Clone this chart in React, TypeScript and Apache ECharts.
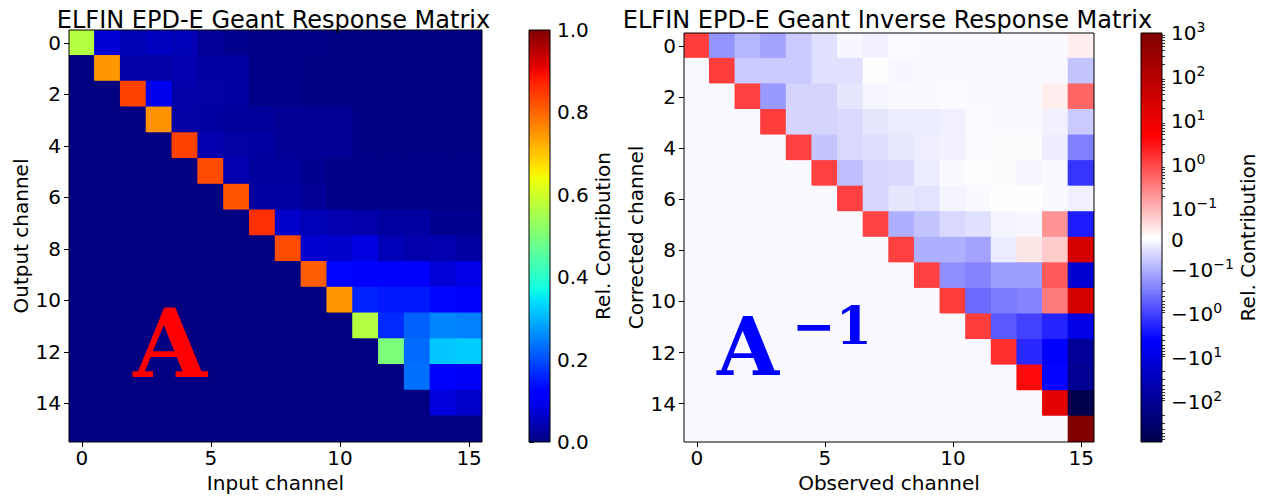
import React, { useEffect, useRef } from "react";
import * as echarts from "echarts";

// Channel indices shared by both matrices
const CHANNELS: string[] = Array.from({ length: 16 }, (_, i) => String(i));

// Response matrix A: rows = output channel, columns = input channel
const RESPONSE: number[][] = [
  [0.57, 0.073, 0.045, 0.055, 0.048, 0.022, 0.014, 0.007, 0.007, 0.006, 0.005, 0.005, 0.005, 0.004, 0.004, 0.004],
  [0, 0.75, 0.035, 0.035, 0.04, 0.028, 0.028, 0.007, 0.008, 0.005, 0.005, 0.004, 0.004, 0.004, 0.004, 0.004],
  [0, 0, 0.84, 0.097, 0.035, 0.031, 0.028, 0.01, 0.01, 0.005, 0.005, 0.005, 0.004, 0.004, 0.004, 0.004],
  [0, 0, 0, 0.755, 0.031, 0.028, 0.024, 0.024, 0.017, 0.017, 0.017, 0.005, 0.005, 0.005, 0.005, 0.005],
  [0, 0, 0, 0, 0.84, 0.04, 0.031, 0.028, 0.02, 0.02, 0.017, 0.005, 0.005, 0.005, 0.005, 0.005],
  [0, 0, 0, 0, 0, 0.83, 0.042, 0.026, 0.026, 0.014, 0.006, 0.006, 0.006, 0.006, 0.006, 0.006],
  [0, 0, 0, 0, 0, 0, 0.82, 0.028, 0.028, 0.02, 0.006, 0.006, 0.006, 0.006, 0.006, 0.006],
  [0, 0, 0, 0, 0, 0, 0, 0.86, 0.066, 0.048, 0.042, 0.037, 0.028, 0.028, 0.014, 0.014],
  [0, 0, 0, 0, 0, 0, 0, 0, 0.83, 0.07, 0.066, 0.083, 0.048, 0.037, 0.042, 0.028],
  [0, 0, 0, 0, 0, 0, 0, 0, 0, 0.81, 0.13, 0.12, 0.115, 0.11, 0.076, 0.09],
  [0, 0, 0, 0, 0, 0, 0, 0, 0, 0, 0.75, 0.16, 0.15, 0.15, 0.13, 0.12],
  [0, 0, 0, 0, 0, 0, 0, 0, 0, 0, 0, 0.57, 0.165, 0.22, 0.255, 0.25],
  [0, 0, 0, 0, 0, 0, 0, 0, 0, 0, 0, 0, 0.5, 0.23, 0.32, 0.325],
  [0, 0, 0, 0, 0, 0, 0, 0, 0, 0, 0, 0, 0, 0.235, 0.11, 0.105],
  [0, 0, 0, 0, 0, 0, 0, 0, 0, 0, 0, 0, 0, 0, 0.08, 0.065],
  [0, 0, 0, 0, 0, 0, 0, 0, 0, 0, 0, 0, 0, 0, 0, 0.001],
];

// Inverse response matrix A^-1: rows = corrected channel, columns = observed channel
const INVERSE: number[][] = [
  [1.35, -0.17, -0.09, -0.125, -0.063, -0.033, -0.003, -0.013, 0.002, 0, 0, 0, 0, 0, 0, 0.03],
  [0, 1.33, -0.063, -0.063, -0.063, -0.033, -0.033, 0.006, -0.003, -0.001, 0, 0, 0, 0, 0, -0.07],
  [0, 0, 1.25, -0.155, -0.05, -0.05, -0.026, -0.006, -0.001, -0.001, 0.001, 0, 0, 0, 0.03, 0.57],
  [0, 0, 0, 1.33, -0.05, -0.05, -0.043, -0.026, -0.018, -0.018, -0.013, 0.002, -0.001, -0.001, -0.01, -0.063],
  [0, 0, 0, 0, 1.25, -0.07, -0.043, -0.036, -0.023, -0.014, -0.01, 0.002, 0.004, 0.003, -0.016, -0.26],
  [0, 0, 0, 0, 0, 1.25, -0.077, -0.047, -0.043, -0.018, -0.001, 0.005, 0.004, -0.004, 0, -1.24],
  [0, 0, 0, 0, 0, 0, 1.25, -0.047, -0.026, -0.03, -0.007, 0, 0.01, 0.01, -0.001, -0.013],
  [0, 0, 0, 0, 0, 0, 0, 1.2, -0.098, -0.07, -0.043, -0.033, -0.007, -0.003, 0.22, -2.1],
  [0, 0, 0, 0, 0, 0, 0, 0, 1.25, -0.098, -0.098, -0.125, -0.018, 0.041, 0.075, 28],
  [0, 0, 0, 0, 0, 0, 0, 0, 0, 1.25, -0.19, -0.24, -0.14, -0.14, 0.74, -15.6],
  [0, 0, 0, 0, 0, 0, 0, 0, 0, 0, 1.33, -0.41, -0.29, -0.24, 0.37, 28],
  [0, 0, 0, 0, 0, 0, 0, 0, 0, 0, 0, 1.35, -0.59, -0.97, -1.8, -8.2],
  [0, 0, 0, 0, 0, 0, 0, 0, 0, 0, 0, 0, 1.8, -1.65, -3.8, -80],
  [0, 0, 0, 0, 0, 0, 0, 0, 0, 0, 0, 0, 0, 3.9, -3.5, -100],
  [0, 0, 0, 0, 0, 0, 0, 0, 0, 0, 0, 0, 0, 0, 16, -790],
  [0, 0, 0, 0, 0, 0, 0, 0, 0, 0, 0, 0, 0, 0, 0, 1000],
];

// Colour-bar ticks
const RESPONSE_TICKS: number[] = [0, 0.2, 0.4, 0.6, 0.8, 1.0];
const INVERSE_MAJOR_TICKS: number[] = [1000, 100, 10, 1, 0.1, 0, -0.1, -1, -10, -100];
const INVERSE_MINOR_MULTIPLES: number[] = [2, 3, 4, 5, 6, 7, 8, 9];
const INVERSE_MINOR_DECADES: number[] = [0.1, 1, 10, 100];

// Symmetric-log norm of the inverse matrix
const INVERSE_VMIN = -790;
const INVERSE_VMAX = 1000;
const LINTHRESH = 0.1;
const LINSCALE = 1;
const LIN_UNITS = LINSCALE / (1 - Math.exp(-1)) / Math.LN10;

function symlog(v: number): number {
  const a = Math.abs(v);
  if (a <= LINTHRESH) return (v / LINTHRESH) * LIN_UNITS;
  return Math.sign(v) * (LIN_UNITS + Math.log10(a / LINTHRESH));
}

const T_MIN = symlog(INVERSE_VMIN);
const T_MAX = symlog(INVERSE_VMAX);

// Colormaps
const JET_R = [[0, 0], [0.35, 0], [0.66, 1], [0.89, 1], [1, 0.5]];
const JET_G = [[0, 0], [0.125, 0], [0.375, 1], [0.64, 1], [0.91, 0], [1, 0]];
const JET_B = [[0, 0.5], [0.11, 1], [0.34, 1], [0.65, 0], [1, 0]];

function segment(x: number, pts: number[][]): number {
  for (let i = 1; i < pts.length; i++) {
    if (x <= pts[i][0]) {
      const [x0, y0] = pts[i - 1];
      const [x1, y1] = pts[i];
      return y0 + ((x - x0) / (x1 - x0)) * (y1 - y0);
    }
  }
  return pts[pts.length - 1][1];
}

const JET: string[] = Array.from({ length: 201 }, (_, i) => {
  const x = i / 200;
  const c = (p: number[][]) => Math.round(segment(x, p) * 255);
  return `rgb(${c(JET_R)},${c(JET_G)},${c(JET_B)})`;
});
const SEISMIC: string[] = ["#00004d", "#0000ff", "#ffffff", "#ff0000", "#800000"];

const FONT = "DejaVu Sans";
const TEXT = "#000";

function inverseTickLabel(v: number): string {
  if (v === 0) return "{n|0}";
  const exp = Math.round(Math.log10(Math.abs(v)));
  const sign = v < 0 ? "\u2212" : "";
  const e = exp < 0 ? "\u2212" + Math.abs(exp) : String(exp);
  return `{n|${sign}10}{s|${e}}`;
}

const MAJOR_T = INVERSE_MAJOR_TICKS.map(symlog);
const MINOR_T: number[] = [];
for (const d of INVERSE_MINOR_DECADES) {
  for (const m of INVERSE_MINOR_MULTIPLES) {
    const v = d * m;
    if (v <= INVERSE_VMAX) MINOR_T.push(symlog(v));
    if (-v >= INVERSE_VMIN) MINOR_T.push(symlog(-v));
  }
}

const CBAR_STEPS = 300;
const CELL_PAD = 0.7;

function mainXAxis(gridIndex: number, name: string) {
  return {
    type: "category",
    gridIndex,
    data: CHANNELS,
    position: "bottom",
    name,
    nameLocation: "middle",
    nameGap: 25,
    nameTextStyle: { fontFamily: FONT, fontSize: 20, color: TEXT },
    axisLine: { show: false },
    axisTick: {
      show: true,
      alignWithLabel: true,
      length: 5,
      interval: (i: number) => i % 5 === 0,
      lineStyle: { color: TEXT },
    },
    axisLabel: {
      interval: (i: number) => i % 5 === 0,
      margin: 6,
      fontFamily: FONT,
      fontSize: 20,
      color: TEXT,
    },
    splitLine: { show: false },
    splitArea: { show: false },
  };
}

function mainYAxis(gridIndex: number, name: string) {
  return {
    type: "category",
    gridIndex,
    data: CHANNELS,
    inverse: true,
    name,
    nameLocation: "middle",
    nameRotate: 90,
    nameGap: 38,
    nameTextStyle: { fontFamily: FONT, fontSize: 20, color: TEXT },
    axisLine: { show: false },
    axisTick: {
      show: true,
      alignWithLabel: true,
      length: 5,
      interval: (i: number) => i % 2 === 0,
      lineStyle: { color: TEXT },
    },
    axisLabel: {
      interval: (i: number) => i % 2 === 0,
      margin: 8,
      fontFamily: FONT,
      fontSize: 20,
      color: TEXT,
    },
    splitLine: { show: false },
    splitArea: { show: false },
  };
}

// One matrix cell, padded so neighbouring cells overlap and leave no hairline seams
function cellRenderItem(params: any, api: any) {
  const center = api.coord([api.value(0), api.value(1)]);
  const size = api.size([1, 1]);
  return {
    type: "rect",
    shape: {
      x: center[0] - size[0] / 2 - CELL_PAD,
      y: center[1] - size[1] / 2 - CELL_PAD,
      width: size[0] + 2 * CELL_PAD,
      height: size[1] + 2 * CELL_PAD,
    },
    style: { fill: api.visual("color") },
  };
}

function colorbarRenderItem(params: any, api: any) {
  const lo = api.value(0);
  const hi = api.value(1);
  const p0 = api.coord([0, lo]);
  const p1 = api.coord([1, hi]);
  return {
    type: "rect",
    shape: { x: p0[0], y: p1[1] - 0.6, width: p1[0] - p0[0], height: p0[1] - p1[1] + 1.2 },
    style: { fill: api.visual("color") },
  };
}

export default function App() {
  const ref = useRef<HTMLDivElement>(null);

  useEffect(() => {
    if (!ref.current) return;
    const chart = echarts.init(ref.current, undefined, { renderer: "svg" });

    const responseData = RESPONSE.flatMap((row, r) => row.map((v, c) => [c, r, v]));
    const inverseData = INVERSE.flatMap((row, r) => row.map((v, c) => [c, r, v, symlog(v)]));

    const responseBar = Array.from({ length: CBAR_STEPS }, (_, i) => {
      const lo = i / CBAR_STEPS;
      const hi = (i + 1) / CBAR_STEPS;
      return [lo, hi, (lo + hi) / 2];
    });
    const inverseBar = Array.from({ length: CBAR_STEPS }, (_, i) => {
      const lo = T_MIN + ((T_MAX - T_MIN) * i) / CBAR_STEPS;
      const hi = T_MIN + ((T_MAX - T_MIN) * (i + 1)) / CBAR_STEPS;
      return [lo, hi, 0, (lo + hi) / 2];
    });

    const gridStyle = {
      show: true,
      borderColor: "#000",
      borderWidth: 1,
      backgroundColor: "transparent",
      z: 10,
      containLabel: false,
    };

    chart.setOption({
      animation: false,
      backgroundColor: "#fff",
      textStyle: { fontFamily: FONT },
      title: [
        {
          text: "ELFIN EPD-E Geant Response Matrix",
          left: 268.5,
          top: 3,
          textAlign: "center",
          textStyle: { fontFamily: FONT, fontSize: 24, fontWeight: "normal", color: TEXT },
        },
        {
          text: "ELFIN EPD-E Geant Inverse Response Matrix",
          left: 882.5,
          top: 3,
          textAlign: "center",
          textStyle: { fontFamily: FONT, fontSize: 24, fontWeight: "normal", color: TEXT },
        },
      ],
      grid: [
        { ...gridStyle, left: 69, top: 30, width: 413, height: 412 },
        { ...gridStyle, left: 684, top: 33, width: 410, height: 409 },
        { ...gridStyle, left: 529, top: 30, width: 21, height: 412 },
        { ...gridStyle, left: 1141, top: 33, width: 21, height: 409 },
      ],
      xAxis: [
        mainXAxis(0, "Input channel"),
        mainXAxis(1, "Observed channel"),
        { type: "value", gridIndex: 2, min: 0, max: 1, show: false },
        { type: "value", gridIndex: 3, min: 0, max: 1, show: false },
      ],
      yAxis: [
        mainYAxis(0, "Output channel"),
        mainYAxis(1, "Corrected channel"),
        {
          type: "value",
          gridIndex: 2,
          position: "right",
          min: 0,
          max: 1,
          interval: 0.2,
          name: "Rel. Contribution",
          nameLocation: "middle",
          nameRotate: 90,
          nameGap: 42,
          nameTextStyle: { fontFamily: FONT, fontSize: 20, color: TEXT },
          axisLine: { show: false },
          axisTick: { show: true, length: 5, lineStyle: { color: TEXT } },
          axisLabel: {
            margin: 7,
            fontFamily: FONT,
            fontSize: 20,
            color: TEXT,
            formatter: (v: number) => v.toFixed(1),
            customValues: RESPONSE_TICKS,
          },
          splitLine: { show: false },
        },
        {
          type: "value",
          gridIndex: 3,
          position: "right",
          min: T_MIN,
          max: T_MAX,
          name: "Rel. Contribution",
          nameLocation: "middle",
          nameRotate: 90,
          nameGap: 73,
          nameTextStyle: { fontFamily: FONT, fontSize: 20, color: TEXT },
          axisLine: { show: false },
          axisTick: { show: true, length: 5, customValues: MAJOR_T, lineStyle: { color: TEXT } },
          axisLabel: {
            margin: 9,
            customValues: MAJOR_T,
            formatter: (t: number) => {
              const idx = MAJOR_T.findIndex((m) => Math.abs(m - t) < 1e-6);
              return idx < 0 ? "" : inverseTickLabel(INVERSE_MAJOR_TICKS[idx]);
            },
            rich: {
              n: { fontFamily: FONT, fontSize: 20, color: TEXT },
              s: { fontFamily: FONT, fontSize: 14, color: TEXT, padding: [0, 0, 12, 0] },
            },
          },
          splitLine: { show: false },
        },
        {
          type: "value",
          gridIndex: 3,
          position: "right",
          min: T_MIN,
          max: T_MAX,
          axisLine: { show: false },
          axisLabel: { show: false },
          axisTick: { show: true, length: 3, customValues: MINOR_T, lineStyle: { color: TEXT, width: 0.8 } },
          splitLine: { show: false },
        },
      ],
      visualMap: [
        {
          type: "continuous",
          show: false,
          seriesIndex: [0, 2],
          dimension: 2,
          min: 0,
          max: 1,
          inRange: { color: JET },
        },
        {
          type: "continuous",
          show: false,
          seriesIndex: [1, 3],
          dimension: 3,
          min: T_MIN,
          max: T_MAX,
          inRange: { color: SEISMIC },
        },
      ],
      series: [
        {
          type: "custom",
          xAxisIndex: 0,
          yAxisIndex: 0,
          data: responseData,
          silent: true,
          clip: true,
          renderItem: cellRenderItem,
        },
        {
          type: "custom",
          xAxisIndex: 1,
          yAxisIndex: 1,
          data: inverseData,
          silent: true,
          clip: true,
          renderItem: cellRenderItem,
        },
        {
          type: "custom",
          xAxisIndex: 2,
          yAxisIndex: 2,
          data: responseBar,
          silent: true,
          clip: true,
          renderItem: colorbarRenderItem,
        },
        {
          type: "custom",
          xAxisIndex: 3,
          yAxisIndex: 3,
          data: inverseBar,
          silent: true,
          clip: true,
          renderItem: colorbarRenderItem,
        },
      ],
      graphic: [
        {
          type: "text",
          z: 20,
          style: {
            text: "A",
            x: 170,
            y: 343,
            align: "center",
            verticalAlign: "middle",
            fontFamily: "DejaVu Serif",
            fontWeight: "bold",
            fontSize: 95,
            fill: "#ff0000",
          },
        },
        {
          type: "text",
          z: 20,
          style: {
            text: "A",
            x: 748,
            y: 347,
            align: "center",
            verticalAlign: "middle",
            fontFamily: "DejaVu Serif",
            fontWeight: "bold",
            fontSize: 80,
            fill: "#0000ff",
          },
        },
        {
          type: "text",
          z: 20,
          style: {
            text: "\u22121",
            x: 832,
            y: 325,
            align: "center",
            verticalAlign: "middle",
            fontFamily: "DejaVu Serif",
            fontWeight: "bold",
            fontSize: 52,
            fill: "#0000ff",
          },
        },
      ],
    });

    return () => chart.dispose();
  }, []);

  return (
    <div
      ref={ref}
      style={{ position: "absolute", left: 0, top: 0, width: 1266, height: 500 }}
    />
  );
}
